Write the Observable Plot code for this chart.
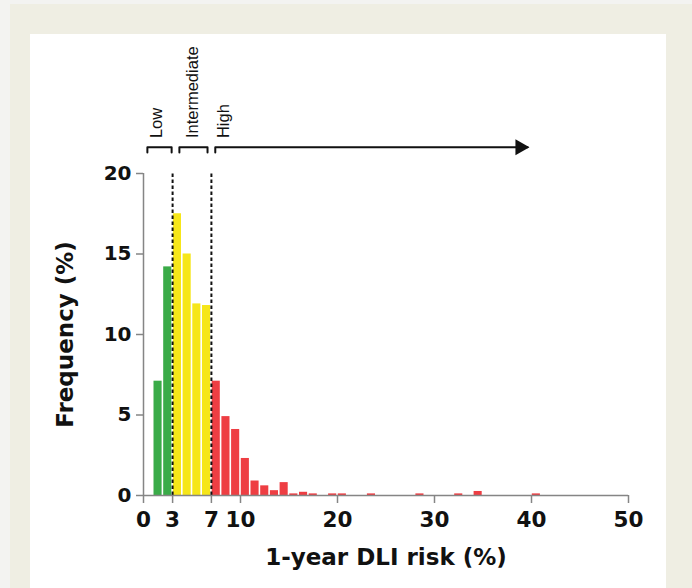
<!DOCTYPE html>
<html>
<head>
<meta charset="utf-8">
<script src="https://cdn.jsdelivr.net/npm/d3@7"></script>
<script src="https://cdn.jsdelivr.net/npm/@observablehq/plot@0.6"></script>
<style>
  html, body { margin: 0; padding: 0; background: #f3f3f1; }
  #page { position: relative; width: 692px; height: 588px; overflow: hidden; }
  #frame { position: absolute; left: 10px; top: 4px; width: 682px; height: 584px; background: #efeee3; }
  #panel { position: absolute; left: 30px; top: 34px; width: 636px; height: 554px; background: #ffffff; }
  #chart { position: absolute; left: 0; top: 0; }
</style>
</head>
<body>
<div id="page">
  <div id="frame"></div>
  <div id="panel"></div>
  <div id="chart"></div>
</div>
<script>
// Histogram of predicted 1-year DLI risk, 1 %-wide bins (lower edge of each bin)
const binStart = [1, 2, 3, 4, 5, 6, 7, 8, 9, 10, 11, 12, 13, 14, 15, 16, 17, 19, 20, 23, 28, 32, 34, 40];
const frequency = [7.1, 14.2, 17.5, 15.0, 11.9, 11.8, 7.1, 4.9, 4.1, 2.3, 0.9, 0.6, 0.3, 0.8, 0.1, 0.2, 0.1, 0.1, 0.1, 0.1, 0.1, 0.1, 0.25, 0.1];

// Risk tiers and their cut-offs
const tierNames = ["Low", "Intermediate", "High"];
const tierColors = ["#3aab48", "#f6e619", "#ee3e43"];
const cutoffs = [3, 7];

// Bracket spans drawn above the plot for each tier
const bracketStart = [0.4, 3.7, 7.4];
const bracketEnd = [2.9, 6.6, 39.6];
const tierLabelX = [1.35, 5.05, 8.25];

const xTicks = [0, 3, 7, 10, 20, 30, 40, 50];
const yTicks = [0, 5, 10, 15, 20];

const tierOf = (x) => (x < cutoffs[0] ? 0 : x < cutoffs[1] ? 1 : 2);

const bins = binStart.map((x, i) => ({x1: x, x2: x + 1, y: frequency[i], tier: tierNames[tierOf(x)]}));

const bracketY = 21.63;
const bracketDrop = 0.32;
const bracketPts = [];
tierNames.forEach((name, i) => {
  bracketPts.push({tier: name, x: bracketStart[i], y: bracketY - bracketDrop});
  bracketPts.push({tier: name, x: bracketStart[i], y: bracketY});
  bracketPts.push({tier: name, x: bracketEnd[i], y: bracketY});
  if (name !== "High") bracketPts.push({tier: name, x: bracketEnd[i], y: bracketY - bracketDrop});
});
const labels = tierNames.map((name, i) => ({name, x: tierLabelX[i]}));

const axisGrey = "#858585";
const ink = "#111111";

const chart = Plot.plot({
  width: 692,
  height: 588,
  marginLeft: 143,
  marginRight: 64,
  marginTop: 173,
  marginBottom: 93,
  x: {domain: [0, 50], axis: null},
  y: {domain: [0, 20], axis: null},
  color: {domain: tierNames, range: tierColors},
  style: {
    fontFamily: "'DejaVu Sans', sans-serif",
    fontSize: "20px",
    fontWeight: "bold",
    color: ink,
    background: "transparent",
    overflow: "visible"
  },
  marks: [
    Plot.rectY(bins, {x1: "x1", x2: "x2", y: "y", fill: "tier", insetLeft: 0.8, insetRight: 0.8}),
    Plot.ruleX(cutoffs, {y1: 0, y2: 20, stroke: ink, strokeWidth: 2, strokeDasharray: "3.5,2.5"}),
    // axis lines
    Plot.ruleY([0], {x1: 0, x2: 50, stroke: axisGrey, strokeWidth: 1.5}),
    Plot.ruleX([0], {y1: 0, y2: 20, stroke: axisGrey, strokeWidth: 1.5}),
    Plot.axisX({ticks: xTicks, tickSize: 8, tickPadding: 8, stroke: axisGrey, strokeWidth: 1.5, fill: ink, fontSize: 21.5, label: null}),
    Plot.axisY({ticks: yTicks, tickSize: 7, tickPadding: 5, stroke: axisGrey, strokeWidth: 1.5, fill: ink, fontSize: 20, label: null}),
    // axis titles
    Plot.text(["1-year DLI risk (%)"], {frameAnchor: "bottom", dy: 62, textAnchor: "middle", lineAnchor: "middle", fontSize: 23, fontWeight: "bold", fill: ink}),
    Plot.text(["Frequency (%)"], {frameAnchor: "left", dx: -78, rotate: -90, textAnchor: "middle", lineAnchor: "middle", fontSize: 23, fontWeight: "bold", fill: ink}),
    // tier brackets and labels
    Plot.line(bracketPts, {x: "x", y: "y", z: "tier", stroke: ink, strokeWidth: 2, curve: "linear"}),
    Plot.dot([{x: bracketEnd[2], y: bracketY}], {x: "x", y: "y", symbol: "triangle", r: 6, rotate: 90, fill: ink, stroke: null, dx: -7.5}),
    Plot.text(labels, {x: "x", y: 22.2, text: "name", rotate: -90, textAnchor: "start", lineAnchor: "middle", fontFamily: "'Liberation Sans', Arial, sans-serif", fontSize: 16.5, fontWeight: "normal", fill: ink})
  ]
});

document.getElementById("chart").appendChild(chart);
</script>
</body>
</html>
